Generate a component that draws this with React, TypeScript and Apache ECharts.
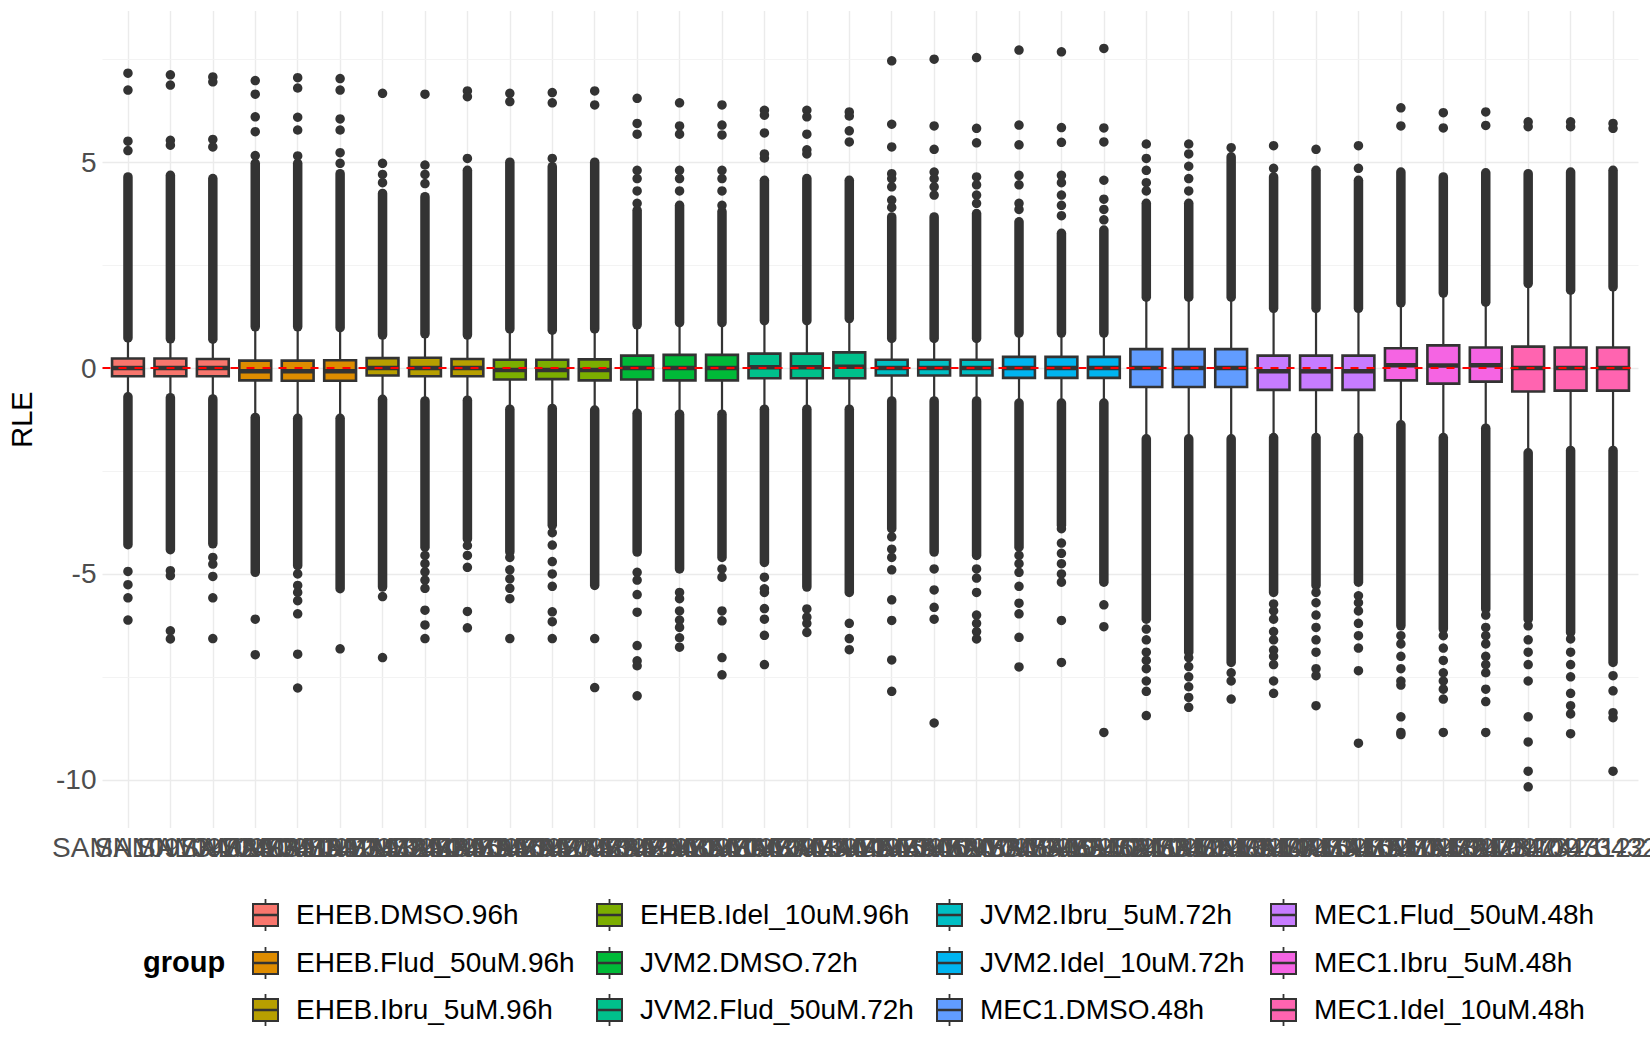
import { useEffect, useRef } from 'react';
import * as echarts from 'echarts';

const groups = [
  'EHEB.DMSO.96h', 'EHEB.Flud_50uM.96h', 'EHEB.Ibru_5uM.96h', 'EHEB.Idel_10uM.96h',
  'JVM2.DMSO.72h', 'JVM2.Flud_50uM.72h', 'JVM2.Ibru_5uM.72h', 'JVM2.Idel_10uM.72h',
  'MEC1.DMSO.48h', 'MEC1.Flud_50uM.48h', 'MEC1.Ibru_5uM.48h', 'MEC1.Idel_10uM.48h',
];
const groupColors = [
  '#F8766D', '#DE8C00', '#B79F00', '#7CAE00', '#00BA38', '#00C08B',
  '#00BFC4', '#00B4F0', '#619CFF', '#C77CFF', '#F564E3', '#FF64B0',
];

const samples = [
  'SAMN1097340189', 'SAMN1097340290', 'SAMN1097340391', 'SAMN1097341092', 'SAMN1097341193', 'SAMN1097341294',
  'SAMN1097341895', 'SAMN1097341996', 'SAMN1097342097', 'SAMN1097342798', 'SAMN1097342899', 'SAMN1097342900',
  'SAMN1097343501', 'SAMN1097343602', 'SAMN1097343703', 'SAMN1097344404', 'SAMN1097344505', 'SAMN1097344606',
  'SAMN1097345207', 'SAMN1097345308', 'SAMN1097345409', 'SAMN1097346110', 'SAMN1097346211', 'SAMN1097346312',
  'SAMN1097340513', 'SAMN1097340614', 'SAMN1097340715', 'SAMN1097341416', 'SAMN1097341517', 'SAMN1097341618',
  'SAMN1097342219', 'SAMN1097342320', 'SAMN1097342421', 'SAMN1097343122', 'SAMN1097343223', 'SAMN1140343423',
];
// group index of each sample
const sampleGroup = [0, 0, 0, 1, 1, 1, 2, 2, 2, 3, 3, 3, 4, 4, 4, 5, 5, 5, 6, 6, 6, 7, 7, 7, 8, 8, 8, 9, 9, 9, 10, 10, 10, 11, 11, 11];

const q3 = [0.23, 0.23, 0.22, 0.18, 0.18, 0.19, 0.24, 0.25, 0.22, 0.2, 0.2, 0.21, 0.3, 0.32, 0.32, 0.35, 0.35, 0.38, 0.2, 0.2, 0.2, 0.27, 0.27, 0.27, 0.46, 0.46, 0.46, 0.3, 0.3, 0.3, 0.48, 0.55, 0.5, 0.52, 0.5, 0.5];
const med = [0, 0, 0, -0.08, -0.08, -0.08, 0, 0, 0, -0.05, -0.05, -0.05, 0, 0, 0, 0.02, 0.02, 0.03, 0, 0, 0, 0, 0, 0, 0, 0, 0, -0.08, -0.08, -0.08, 0.07, 0.06, 0.07, 0, 0, 0];
const q1 = [-0.2, -0.2, -0.2, -0.3, -0.31, -0.31, -0.18, -0.2, -0.2, -0.28, -0.27, -0.3, -0.28, -0.3, -0.3, -0.25, -0.25, -0.25, -0.18, -0.18, -0.18, -0.24, -0.24, -0.24, -0.46, -0.46, -0.46, -0.53, -0.53, -0.53, -0.3, -0.38, -0.33, -0.57, -0.55, -0.55];
const whiskerHi = [0.73, 0.71, 0.7, 1.0, 1.0, 0.98, 0.8, 0.83, 0.8, 0.95, 0.92, 0.95, 1.05, 1.1, 1.1, 1.15, 1.15, 1.2, 0.72, 0.72, 0.72, 0.85, 0.85, 0.85, 1.72, 1.72, 1.72, 1.45, 1.45, 1.45, 1.58, 1.82, 1.6, 2.05, 1.89, 1.97];
const whiskerLo = [-0.7, -0.72, -0.75, -1.2, -1.22, -1.22, -0.76, -0.8, -0.78, -1.0, -0.98, -1.02, -1.1, -1.12, -1.12, -1.0, -1.0, -1.0, -0.8, -0.8, -0.8, -0.85, -0.85, -0.85, -1.72, -1.72, -1.72, -1.69, -1.69, -1.69, -1.38, -1.69, -1.46, -2.06, -2.0, -2.0];
// continuous runs of overlapping outliers beyond the whiskers
const denseTop = [4.64, 4.68, 4.6, 4.97, 4.97, 4.72, 4.24, 4.16, 4.8, 5.0, 4.89, 5.0, 3.83, 3.95, 3.8, 4.56, 4.6, 4.56, 3.67, 3.67, 3.75, 3.55, 3.27, 3.35, 4.0, 4.0, 5.13, 4.64, 4.8, 4.56, 4.76, 4.64, 4.74, 4.72, 4.76, 4.8];
const denseBottom = [-4.29, -4.41, -4.27, -4.96, -4.8, -5.36, -5.32, -4.35, -4.15, -4.47, -3.82, -5.28, -4.47, -4.88, -4.6, -4.72, -5.32, -5.45, -3.9, -4.47, -4.55, -4.35, -3.82, -5.2, -6.1, -6.9, -7.15, -5.45, -5.28, -5.2, -6.26, -6.34, -5.85, -6.1, -6.42, -7.15];

const outliersHigh = [
  [7.16, 6.75, 5.51, 5.28], [7.12, 6.87, 5.53, 5.41], [7.07, 6.95, 5.55, 5.37],
  [6.98, 6.65, 6.1, 5.74, 5.16], [7.05, 6.8, 6.09, 5.78, 5.15], [7.03, 6.75, 6.05, 5.78, 5.23, 4.97],
  [6.67, 4.97, 4.7, 4.5], [6.65, 4.93, 4.7, 4.48], [6.73, 6.59, 5.09],
  [6.67, 6.47], [6.69, 6.44, 5.09], [6.73, 6.39],
  [6.55, 5.94, 5.68, 4.8, 4.6, 4.3, 4.0], [6.44, 5.88, 5.68, 4.8, 4.6, 4.3], [6.39, 5.9, 5.66, 4.8, 4.6, 4.3, 3.95],
  [6.26, 6.14, 5.71, 5.2, 5.1], [6.26, 6.1, 5.68, 5.3, 5.2], [6.22, 6.12, 5.76, 5.49],
  [7.46, 5.92, 5.37, 4.72, 4.6, 4.4, 4.08, 3.9], [7.5, 5.88, 5.31, 4.76, 4.6, 4.4, 4.2], [7.54, 5.82, 5.47, 4.64, 4.45, 4.2, 4.0],
  [7.72, 5.9, 5.42, 4.68, 4.45, 4.0, 3.85], [7.68, 5.84, 5.48, 4.68, 4.5, 4.2, 3.95, 3.7], [7.76, 5.83, 5.49, 4.56, 4.1, 3.85, 3.6],
  [5.44, 5.09, 4.8, 4.5, 4.3], [5.44, 5.2, 4.9, 4.6, 4.3], [5.35],
  [5.4, 4.85], [5.31], [5.4, 4.85],
  [6.32, 5.88], [6.2, 5.83], [6.22, 5.89],
  [5.98, 5.86], [5.98, 5.86], [5.94, 5.82],
];
const outliersLow = [
  [-4.94, -5.26, -5.58, -6.12], [-4.92, -5.04, -6.38, -6.58], [-4.6, -4.76, -5.06, -5.58, -6.57],
  [-6.1, -6.96], [-5.0, -5.28, -5.45, -5.65, -5.97, -6.95, -7.77], [-6.82],
  [-5.55, -7.03], [-4.55, -4.75, -4.95, -5.15, -5.35, -5.88, -6.24, -6.57], [-4.31, -4.55, -4.84, -5.91, -6.31],
  [-4.6, -4.9, -5.12, -5.35, -5.6, -6.57], [-4.0, -4.3, -4.7, -5.0, -5.3, -5.92, -6.16, -6.57], [-6.57, -7.76],
  [-4.96, -5.15, -5.5, -5.93, -6.74, -7.11, -7.23, -7.96], [-5.45, -5.6, -5.9, -6.12, -6.3, -6.55, -6.78], [-4.88, -5.08, -5.9, -6.14, -7.03, -7.45],
  [-5.08, -5.36, -5.45, -5.84, -6.1, -6.49, -7.2], [-5.85, -6.05, -6.2, -6.42], [-6.2, -6.57, -6.84],
  [-4.1, -4.4, -4.6, -4.9, -5.63, -6.13, -7.09, -7.85], [-4.88, -5.39, -5.81, -6.1, -8.62], [-4.88, -5.1, -5.45, -6.0, -6.2, -6.4, -6.58],
  [-4.55, -4.75, -4.96, -5.3, -5.71, -5.97, -6.54, -7.26], [-3.9, -4.25, -4.5, -4.75, -5.0, -5.2, -6.13, -7.15], [-5.75, -6.28, -8.85],
  [-6.34, -6.6, -6.9, -7.1, -7.3, -7.6, -7.85, -8.44], [-7.03, -7.25, -7.5, -7.74, -8.0, -8.24], [-7.4, -7.6, -8.04],
  [-5.73, -5.9, -6.1, -6.4, -6.6, -6.85, -7.0, -7.2, -7.6, -7.9], [-5.45, -5.7, -6.0, -6.3, -6.6, -6.9, -7.3, -7.47, -8.2], [-5.53, -5.7, -5.9, -6.2, -6.5, -6.8, -7.35, -9.11],
  [-6.5, -6.7, -7.0, -7.3, -7.6, -7.7, -8.47, -8.85, -8.9], [-6.5, -6.8, -7.1, -7.4, -7.6, -7.8, -8.04, -8.85], [-6.0, -6.3, -6.5, -6.7, -7.0, -7.2, -7.4, -7.8, -8.1, -8.85],
  [-6.26, -6.6, -6.9, -7.2, -7.6, -8.47, -9.08, -9.79, -10.17], [-6.58, -6.9, -7.2, -7.5, -7.9, -8.2, -8.4, -8.88], [-7.47, -7.84, -8.37, -8.49, -9.79],
];

const majorY = [-10, -5, 0, 5];
const minorY = [-7.5, -2.5, 2.5, 7.5];

const FONT = 'Liberation Sans, Arial, sans-serif';
const INK = '#333333';

function App() {
  const ref = useRef<HTMLDivElement>(null);

  useEffect(() => {
    document.body.style.margin = '0';
    if (!ref.current) return;
    const chart = echarts.init(ref.current, null, { renderer: 'svg' });

    const xs = samples.map((_, i) => i + 1);

    const gridLines: any[] = [
      ...xs.map(x => ({ xAxis: x, lineStyle: { color: '#EBEBEB', width: 1.4, type: 'solid' } })),
      ...majorY.map(y => ({ yAxis: y, lineStyle: { color: '#EBEBEB', width: 1.4, type: 'solid' } })),
      ...minorY.map(y => ({ yAxis: y, lineStyle: { color: '#F2F2F2', width: 0.9, type: 'solid' } })),
    ];

    const pts: number[][] = [];
    xs.forEach((x, i) => {
      outliersHigh[i].forEach(v => pts.push([x, v]));
      outliersLow[i].forEach(v => pts.push([x, v]));
    });

    // legend drawn as graphic, column-major 4 x 3
    const colX = [252, 596, 936, 1270];
    const rowY = [915, 963, 1010];
    const legendEls: any[] = [
      { type: 'text', left: 143, top: rowY[1] - 16, style: { text: 'group', font: `bold 29px ${FONT}`, fill: '#000' } },
    ];
    groups.forEach((g, k) => {
      const cx = colX[Math.floor(k / 3)];
      const cy = rowY[k % 3];
      legendEls.push(
        { type: 'line', shape: { x1: cx + 13.5, y1: cy - 16, x2: cx + 13.5, y2: cy + 16 }, style: { stroke: INK, lineWidth: 1.8 } },
        { type: 'rect', shape: { x: cx + 1, y: cy - 11, width: 25, height: 22 }, style: { fill: groupColors[k], stroke: INK, lineWidth: 2 } },
        { type: 'line', shape: { x1: cx + 1, y1: cy, x2: cx + 26, y2: cy }, style: { stroke: INK, lineWidth: 2.5 } },
        { type: 'text', left: cx + 44, top: cy - 15, style: { text: g, font: `28px ${FONT}`, fill: '#000' } },
      );
    });

    const option: any = {
      animation: false,
      textStyle: { fontFamily: FONT },
      grid: { left: 102.5, right: 11.5, top: 11, height: 817, containLabel: false, outerBoundsMode: 'none' },
      xAxis: {
        type: 'value', min: 0.4, max: 36.6,
        splitLine: { show: false }, axisLine: { show: false }, axisTick: { show: false },
        axisLabel: {
          customValues: xs, formatter: (v: number) => samples[Math.round(v) - 1] || '',
          fontSize: 28, color: '#4D4D4D', margin: 5, hideOverlap: false,
        },
      },
      yAxis: {
        type: 'value', min: -11.17, max: 8.67,
        splitLine: { show: false }, axisLine: { show: false }, axisTick: { show: false },
        axisLabel: { customValues: majorY, fontSize: 28, color: '#4D4D4D', margin: 6 },
        name: 'RLE', nameLocation: 'middle', nameGap: 66,
        nameTextStyle: { fontSize: 29, color: '#000' },
      },
      graphic: legendEls,
      series: [
        {
          type: 'scatter', data: [], silent: true, z: 0,
          markLine: { silent: true, symbol: 'none', label: { show: false }, data: gridLines, z: 0 },
        },
        {
          // dense outlier runs
          type: 'custom', z: 2, silent: true,
          data: xs.map((x, i) => [x, denseBottom[i], whiskerLo[i], whiskerHi[i], denseTop[i]]),
          renderItem: (_p: any, api: any) => {
            const x = api.value(0);
            const a = api.coord([x, api.value(1)]);
            const b = api.coord([x, api.value(2)]);
            const c = api.coord([x, api.value(3)]);
            const d = api.coord([x, api.value(4)]);
            const st = { stroke: INK, lineWidth: 9.5, lineCap: 'round' };
            return {
              type: 'group',
              children: [
                { type: 'line', shape: { x1: a[0], y1: a[1], x2: b[0], y2: b[1] }, style: st },
                { type: 'line', shape: { x1: c[0], y1: c[1], x2: d[0], y2: d[1] }, style: st },
              ],
            };
          },
        },
        {
          type: 'scatter', z: 2, silent: true, symbolSize: 9.5,
          itemStyle: { color: INK, opacity: 1 }, data: pts,
        },
        {
          // boxes with whiskers
          type: 'custom', z: 3, silent: true,
          data: xs.map((x, i) => [x, whiskerLo[i], q1[i], med[i], q3[i], whiskerHi[i], sampleGroup[i]]),
          renderItem: (_p: any, api: any) => {
            const x = api.value(0);
            const w = api.size([0.75, 0])[0];
            const lo = api.coord([x, api.value(1)]);
            const b1 = api.coord([x, api.value(2)]);
            const m = api.coord([x, api.value(3)]);
            const b3 = api.coord([x, api.value(4)]);
            const hi = api.coord([x, api.value(5)]);
            const color = groupColors[api.value(6)];
            return {
              type: 'group',
              children: [
                { type: 'line', shape: { x1: lo[0], y1: lo[1], x2: b1[0], y2: b1[1] }, style: { stroke: INK, lineWidth: 2.2 } },
                { type: 'line', shape: { x1: hi[0], y1: hi[1], x2: b3[0], y2: b3[1] }, style: { stroke: INK, lineWidth: 2.2 } },
                { type: 'rect', shape: { x: m[0] - w / 2, y: b3[1], width: w, height: b1[1] - b3[1] }, style: { fill: color, stroke: INK, lineWidth: 2.6 } },
                { type: 'line', shape: { x1: m[0] - w / 2, y1: m[1], x2: m[0] + w / 2, y2: m[1] }, style: { stroke: INK, lineWidth: 4.5 } },
              ],
            };
          },
        },
        {
          type: 'scatter', data: [], silent: true, z: 10,
          markLine: {
            silent: true, symbol: 'none', label: { show: false }, z: 10,
            lineStyle: { color: '#FF0000', width: 2.2, type: [8, 8] },
            data: [{ yAxis: 0 }],
          },
        },
      ],
    };

    chart.setOption(option);
    return () => chart.dispose();
  }, []);

  return <div ref={ref} style={{ width: 1650, height: 1050, background: '#fff' }} />;
}

export default App;
